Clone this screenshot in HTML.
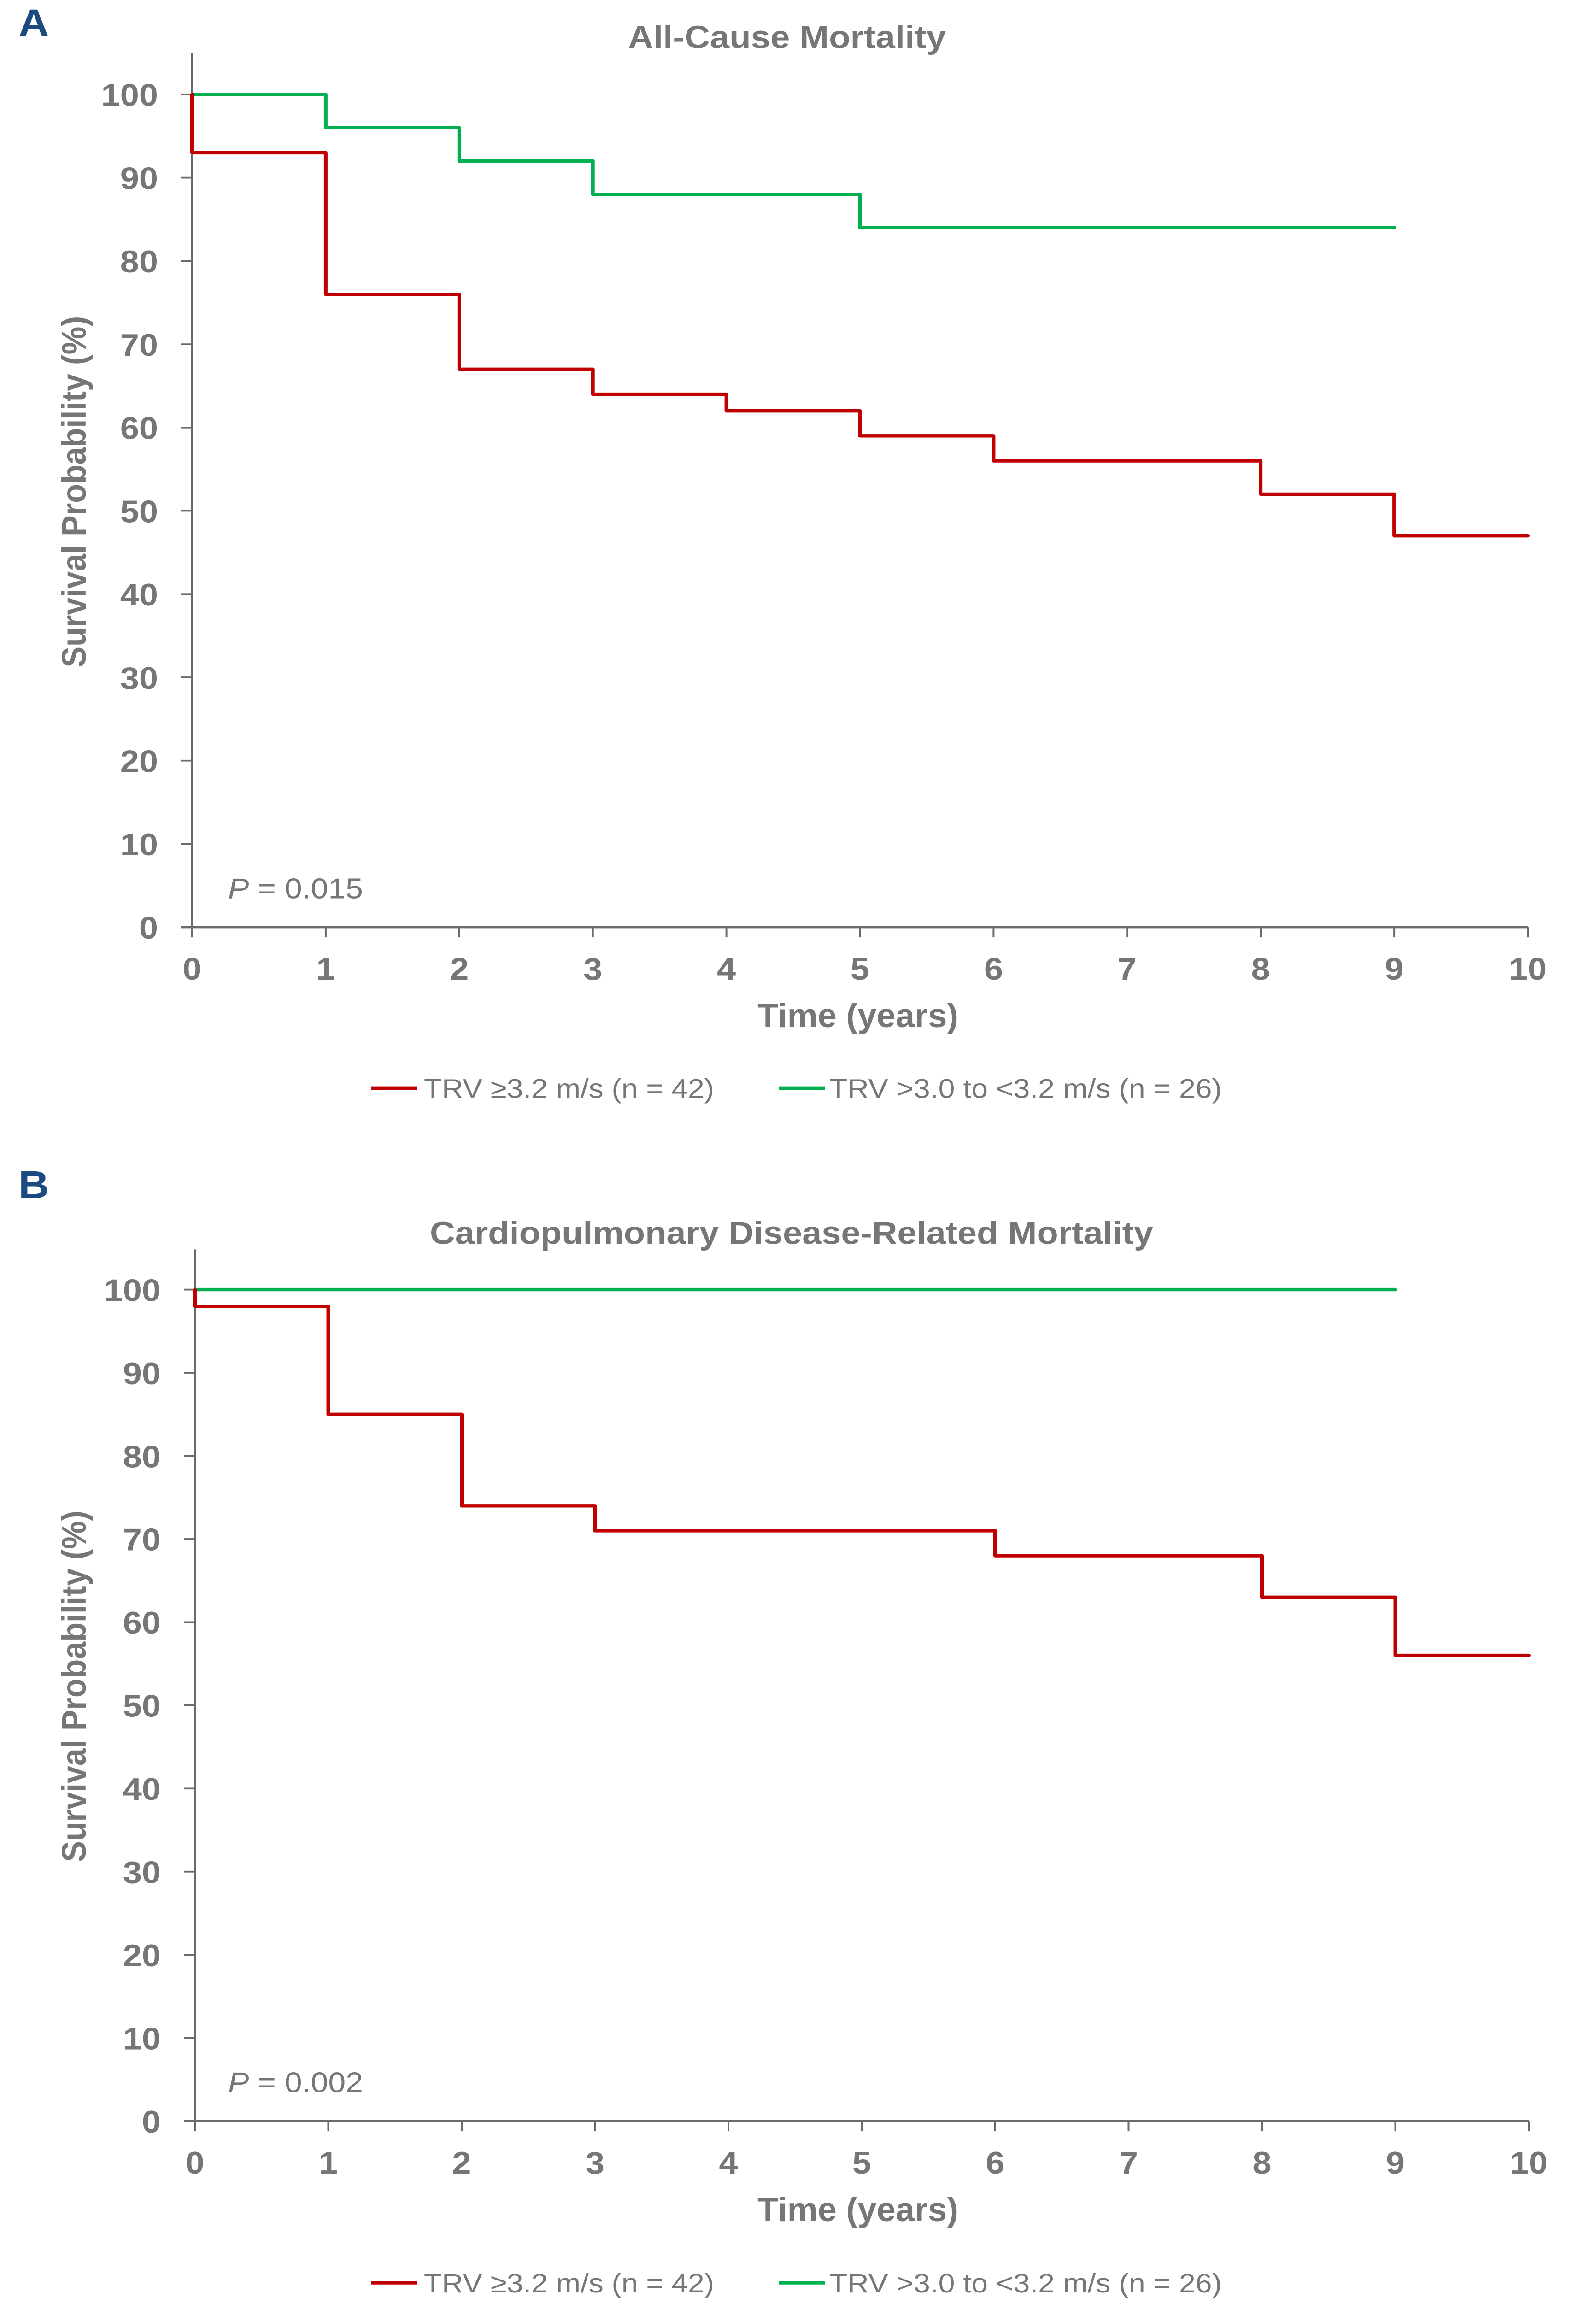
<!DOCTYPE html>
<html><head><meta charset="utf-8"><style>
html,body{margin:0;padding:0;background:#fff;width:100%;height:100%;overflow:hidden;}
svg{display:block;position:absolute;left:0;top:0;width:100vw;height:100vh;}
text{font-family:"Liberation Sans",sans-serif;fill:#767676;}
</style></head><body>
<svg id="fig" viewBox="0 0 3464 5442" preserveAspectRatio="none" xmlns="http://www.w3.org/2000/svg"></svg>
<script>
// Panel A data
const aRedTimes = [0, 0, 1, 2, 3, 4, 5, 6, 8, 9, 10];
const aRedValues = [100, 93, 76, 67, 64, 62, 59, 56, 52, 47, 47];
const aGreenTimes = [0, 1, 2, 3, 5, 9];
const aGreenValues = [100, 96, 92, 88, 84, 84];
// Panel B data
const bRedTimes = [0, 0, 1, 2, 3, 6, 8, 9, 10];
const bRedValues = [100, 98, 85, 74, 71, 68, 63, 56, 56];
const bGreenTimes = [0, 9];
const bGreenValues = [100, 100];
const yTicks = [0,10,20,30,40,50,60,70,80,90,100];
const xTicks = [0,1,2,3,4,5,6,7,8,9,10];
const legendLabels = ["TRV \u22653.2 m/s (n = 42)", "TRV >3.0 to <3.2 m/s (n = 26)"];

const NS = "http://www.w3.org/2000/svg";
const svg = document.getElementById('fig');
function mk(tag, attrs, parent){ const e=document.createElementNS(NS,tag); for(const k in attrs) e.setAttribute(k,attrs[k]); (parent||svg).appendChild(e); return e; }

function panel(cfg){
  const g = mk('g',{});
  
  
  const x = t => cfg.x0 + (cfg.x10 - cfg.x0) * t / 10;
  const y = v => cfg.y0 - (cfg.y0 - cfg.y100) * v / 100;

  const lab = mk('text',{x:40,y:cfg.labelY,'font-size':92,'font-weight':'bold',style:'fill:#1a4a80'},g);
  lab.textContent = cfg.letter;
  
  

  const title = mk('text',{x:cfg.titleX,y:cfg.titleY,'font-size':76,'font-weight':'bold','text-anchor':'middle',textLength:cfg.titleLen,lengthAdjust:'spacingAndGlyphs'},g);
  title.textContent = cfg.title;
  
  

  const ya = mk('line',{x1:cfg.x0,y1:cfg.axisTop,x2:cfg.x0,y2:cfg.y0,stroke:'#6a6a6a','stroke-width':4},g);
  
  
  yTicks.forEach(v=>{
    const tk = mk('line',{x1:cfg.x0-24,y1:y(v),x2:cfg.x0,y2:y(v),stroke:'#6a6a6a','stroke-width':4},g);
    
    
    const t = mk('text',{x:cfg.x0-74,y:y(v)+27,'font-size':74,'font-weight':'bold','text-anchor':'end'},g);
    t.textContent = v;
    
    
  });
  const xa = mk('line',{x1:cfg.x0-24,y1:cfg.y0,x2:cfg.x10,y2:cfg.y0,stroke:'#6a6a6a','stroke-width':5},g);
  
  
  xTicks.forEach(v=>{
    const tk = mk('line',{x1:x(v),y1:cfg.y0,x2:x(v),y2:cfg.y0+24,stroke:'#6a6a6a','stroke-width':4},g);
    
    
    const t = mk('text',{x:x(v),y:cfg.y0+124,'font-size':74,'font-weight':'bold','text-anchor':'middle'},g);
    t.textContent = v;
    
    
  });
  const xt = mk('text',{x:1862,y:cfg.y0+236,'font-size':80,'font-weight':'bold','text-anchor':'middle',textLength:436,lengthAdjust:'spacingAndGlyphs'},g);
  xt.textContent = 'Time (years)';
  
  
  const yc = (cfg.y0+cfg.y100)/2 - 45;
  const yt = mk('text',{x:0,y:0,'font-size':74,'font-weight':'bold','text-anchor':'middle',textLength:830,lengthAdjust:'spacingAndGlyphs',transform:`translate(186 ${yc}) rotate(-90)`},g);
  yt.textContent = 'Survival Probability (%)';
  
  

  const pv = mk('text',{x:495,y:cfg.y0-68,'font-size':68},g);
  const it = mk('tspan',{'font-style':'italic'},pv); it.textContent='P';
  const rest = mk('tspan',{},pv); rest.textContent=' = '+cfg.p;
  
  

  function step(times, vals, color, name){
    let d = `M${x(times[0])},${y(vals[0])}`;
    for(let i=1;i<times.length;i++){
      d += ` L${x(times[i])},${y(vals[i-1])} L${x(times[i])},${y(vals[i])}`;
    }
    const p = mk('path',{d:d,fill:'none',stroke:color,'stroke-width':8,'stroke-linejoin':'round','stroke-linecap':'round'},g);
    
    
  }
  step(cfg.gT, cfg.gV, '#00b050', 'survival-line-trv-3.0-3.2');
  step(cfg.rT, cfg.rV, '#c00000', 'survival-line-trv-3.2');

  const lg = mk('g',{},g);
  
  
  const ly = cfg.legendY;
  const e1 = mk('line',{x1:806,y1:ly,x2:906,y2:ly,stroke:'#c00000','stroke-width':8},lg);
  
  
  const t1 = mk('text',{x:920,y:ly+23,'font-size':64,textLength:630,lengthAdjust:'spacingAndGlyphs'},lg);
  t1.textContent = legendLabels[0];
  
  
  const e2 = mk('line',{x1:1690,y1:ly,x2:1790,y2:ly,stroke:'#00b050','stroke-width':8},lg);
  
  
  const t2 = mk('text',{x:1800,y:ly+23,'font-size':64,textLength:852,lengthAdjust:'spacingAndGlyphs'},lg);
  t2.textContent = legendLabels[1];
  
  
}

panel({name:'panel-a-all-cause', letter:'A', labelY:86, title:'All-Cause Mortality', titleX:1708, titleY:114, titleLen:690,
  x0:417, x10:3316, y0:2190, y100:223, axisTop:126, p:'0.015', legendY:2570,
  rT:aRedTimes, rV:aRedValues, gT:aGreenTimes, gV:aGreenValues});
panel({name:'panel-b-cardiopulmonary', letter:'B', labelY:2830, title:'Cardiopulmonary Disease-Related Mortality', titleX:1718, titleY:2938, titleLen:1570,
  x0:423, x10:3318, y0:5010, y100:3046, axisTop:2951, p:'0.002', legendY:5392,
  rT:bRedTimes, rV:bRedValues, gT:bGreenTimes, gV:bGreenValues});
</script>
</body></html>
